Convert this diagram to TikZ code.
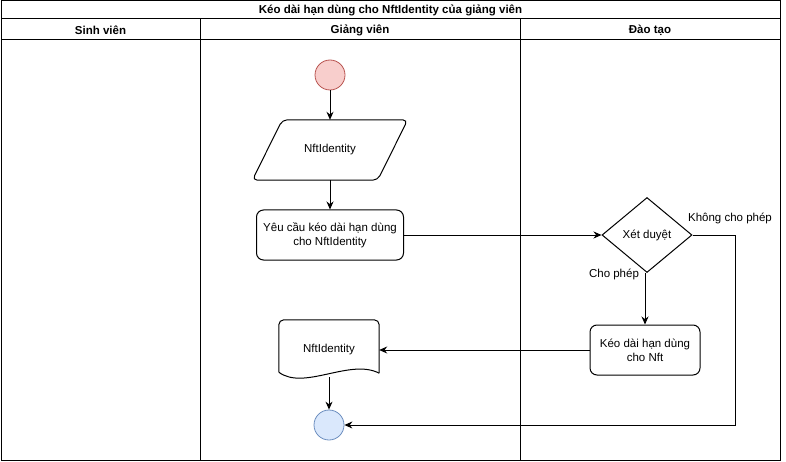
\documentclass[tikz,border=0pt]{standalone}
\usepackage{fontspec}
\setmainfont{Liberation Sans}
\usetikzlibrary{arrows.meta,shapes.geometric}
\definecolor{startfill}{HTML}{F8CECC}
\definecolor{startdraw}{HTML}{B85450}
\definecolor{endfill}{HTML}{DAE8FC}
\definecolor{enddraw}{HTML}{6C8EBF}

\begin{document}
\begin{tikzpicture}[x=1pt,y=-1pt]
        \tikzset{lane/.style = {draw,line width=1pt}}
        \tikzset{lanetitle/.style = {font=\bfseries\fontsize{11.5}{13}\selectfont}}
        \tikzset{txt/.style = {font=\fontsize{11.5}{14}\selectfont,align=center}}
        \tikzset{startnode/.style = {shape=circle,draw=startdraw,fill=startfill,minimum size=30pt,line width=0.8pt}}
        \tikzset{endnode/.style = {shape=circle,draw=enddraw,fill=endfill,minimum size=30pt,line width=0.8pt}}
        \tikzset{io/.style = {txt,shape=rectangle,minimum width=155pt,minimum height=60pt,inner sep=0pt}}
        \tikzset{doc/.style = {txt,shape=rectangle,minimum width=100pt,minimum height=60pt,inner sep=0pt}}
        \tikzset{task/.style = {txt,shape=rectangle,draw,rounded corners=7pt,minimum height=50pt,line width=1pt}}
        \tikzset{decision/.style = {txt,shape=diamond,draw,minimum width=90pt,minimum height=75pt,inner sep=0pt,line width=1pt}}
        \tikzset{edge/.style = {-{Stealth[length=8pt,width=7pt]},line width=1pt}}
        \tikzset{line/.style = {line width=1pt}}

        \useasboundingbox (0,0) rectangle (786,462);

        % swimlanes
        \draw[lane] (1,1) rectangle (780,460);
        \draw[lane] (1,19) -- (780,19);
        \draw[lane] (1,40) -- (780,40);
        \draw[lane] (200,19) -- (200,460);
        \draw[lane] (520,19) -- (520,460);
        \node[lanetitle] (T) at (390.5,10) {Kéo dài hạn dùng cho NftIdentity của giảng viên};
        \node[lanetitle] (L1) at (100.5,30) {Sinh viên};
        \node[lanetitle] (L2) at (360,30) {Giảng viên};
        \node[lanetitle] (L3) at (650,30) {Đào tạo};

        % nodes
        \node[startnode] (S) at (330,75) {};
        \node[io] (N1) at (330,150) {NftIdentity};
        \node[task,minimum width=147pt] (Y) at (330,235) {Yêu cầu kéo dài hạn dùng\\cho NftIdentity};
        \node[decision] (X) at (647,235) {Xét duyệt};
        \node[task,minimum width=110pt] (K) at (645,350) {Kéo dài hạn dùng\\cho Nft};
        \node[doc] (N2) at (329,350) {NftIdentity};
        \node[endnode] (E) at (329,425) {};

        \node[txt] (LN) at (730,218) {Không cho phép};
        \node[txt] (LC) at (614,274) {Cho phép};

        % parallelogram and document outlines
        \draw[line,rounded corners=5pt] (N1.south west) -- ([xshift=30pt]N1.north west) -- (N1.north east)
            -- ([xshift=-30pt]N1.south east) -- cycle;
        \draw[line,rounded corners=5pt] ([yshift=8pt]N2.south west) -- (N2.north west) -- (N2.north east)
            -- ([yshift=7pt]N2.south east);
        \draw[line] ([yshift=8pt]N2.south west) .. controls (304,391) and (350,358) .. ([yshift=7pt]N2.south east);

        % connectors
        \draw[edge] (S) to (N1);
        \draw[edge] (N1) to (Y);
        \draw[edge] (Y) to (X);
        \draw[edge] (X.south -| K.north) to (K);
        \draw[edge] (K) to (N2.east);
        \draw[edge] ([yshift=3pt]N2.south) to (E);
        \draw[edge] (X.east) -- (735,235) |- (E);
\end{tikzpicture}
\end{document}
